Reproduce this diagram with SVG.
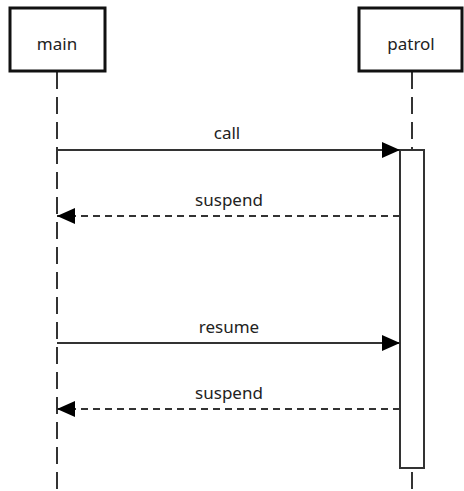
<svg xmlns="http://www.w3.org/2000/svg" width="464" height="491" viewBox="0 0 464 491">
<defs>
<style>
.actor{fill:#fff;stroke:#111;stroke-width:3}
.atext{font-family:"Noto Sans","Open Sans",sans-serif;font-size:17px;fill:#222;text-anchor:middle}
.life{stroke:#333;stroke-width:2;stroke-dasharray:17 8;fill:none}
.msg{stroke:#333;stroke-width:2;fill:none}
.dash{stroke-dasharray:7 5}
.mtext{font-family:"Noto Sans","Open Sans",sans-serif;font-size:17px;fill:#222;text-anchor:middle}
.act{fill:#fff;stroke:#333;stroke-width:2}
</style>
<marker id="arr" markerWidth="18" markerHeight="16" refX="18" refY="8" orient="auto" markerUnits="userSpaceOnUse">
<path d="M0,0 L18,8 L0,16 Z" fill="#000"/>
</marker>
</defs>
<g id="lifelines">
<line class="life" x1="57" y1="72" x2="57" y2="491"/>
<line class="life" x1="412" y1="72" x2="412" y2="491"/>
</g>
<g id="main">
<rect class="actor" x="10" y="8" width="95" height="63"/>
<text class="atext" x="57" y="50">main</text>
</g>
<g id="patrol">
<rect class="actor" x="359" y="8" width="103" height="63"/>
<text class="atext" x="411" y="50">patrol</text>
</g>
<g id="activation">
<rect class="act" x="400" y="150" width="24" height="318"/>
</g>
<g id="connectors">
<line class="msg" x1="57" y1="150" x2="400" y2="150" marker-end="url(#arr)"/>
<text class="mtext" x="227" y="139">call</text>
<line class="msg dash" x1="400" y1="216" x2="57" y2="216" marker-end="url(#arr)"/>
<text class="mtext" x="229" y="206">suspend</text>
<line class="msg" x1="57" y1="343" x2="400" y2="343" marker-end="url(#arr)"/>
<text class="mtext" x="229" y="333">resume</text>
<line class="msg dash" x1="400" y1="409" x2="57" y2="409" marker-end="url(#arr)"/>
<text class="mtext" x="229" y="399">suspend</text>
</g>
</svg>
